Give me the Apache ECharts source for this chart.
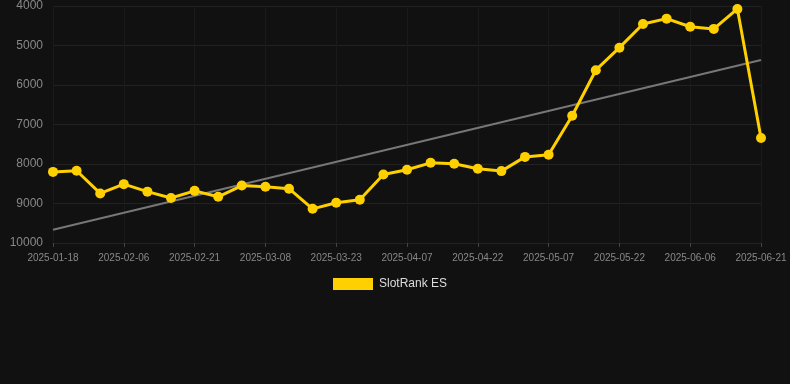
<!DOCTYPE html>
<html>
<head>
<meta charset="utf-8">
<script src="https://cdn.jsdelivr.net/npm/echarts@6/dist/echarts.min.js"></script>
<style>
  html, body { margin: 0; padding: 0; background: #111111; }
  #chart { width: 790px; height: 384px; }
</style>
</head>
<body>
<div id="chart"></div>
<script>
// dates on the x axis (category)
var dates = ['2025-01-18', '2025-01-27', '2025-02-01', '2025-02-06', '2025-02-11', '2025-02-16',
    '2025-02-21', '2025-02-26', '2025-03-03', '2025-03-08', '2025-03-13', '2025-03-18',
    '2025-03-23', '2025-03-28', '2025-04-02', '2025-04-07', '2025-04-12', '2025-04-17',
    '2025-04-22', '2025-04-27', '2025-05-02', '2025-05-07', '2025-05-12', '2025-05-17',
    '2025-05-22', '2025-05-27', '2025-06-01', '2025-06-06', '2025-06-11', '2025-06-16',
    '2025-06-21'];

// rank values (lower is better, axis inverted)
var rankValues = [8200, 8170, 8745, 8510, 8700, 8860, 8680, 8830, 8545, 8575, 8625, 9135,
    8980, 8905, 8265, 8145, 7970, 7995, 8120, 8180, 7820, 7765, 6780, 5625,
    5055, 4455, 4320, 4525, 4580, 4075, 7340];

// trend line endpoints (first and last category)
var trendStart = 9665;
var trendEnd = 5365;

var trendData = dates.map(function (d, i) {
    if (i === 0) return trendStart;
    if (i === dates.length - 1) return trendEnd;
    return null;
});

var option = {
    backgroundColor: '#111111',
    animation: false,
    grid: {
        left: 53,
        right: 29,
        top: 6,
        bottom: 141
    },
    legend: {
        top: 273,
        left: 328,
        itemWidth: 40,
        itemHeight: 12,
        itemGap: 10,
        icon: 'rect',
        data: ['SlotRank ES'],
        textStyle: { color: '#dddddd', fontSize: 12, padding: [0, 0, 0, 1], fontFamily: 'Arial, Liberation Sans, sans-serif' }
    },
    xAxis: {
        type: 'category',
        data: dates,
        boundaryGap: false,
        axisLine: { show: false },
        axisTick: {
            show: true,
            interval: 2,
            length: 4,
            lineStyle: { color: '#444444' }
        },
        axisLabel: {
            interval: 2,
            color: '#888888',
            fontSize: 10,
            margin: 10,
            fontFamily: 'Arial, Liberation Sans, sans-serif'
        },
        splitLine: {
            show: true,
            interval: 2,
            lineStyle: { color: '#1a1a1a' }
        }
    },
    yAxis: {
        type: 'value',
        inverse: true,
        min: 4000,
        max: 10000,
        interval: 1000,
        axisLine: { show: false },
        axisTick: { show: false },
        axisLabel: {
            color: '#888888',
            fontSize: 12,
            margin: 10,
            fontFamily: 'Arial, Liberation Sans, sans-serif',
            formatter: function (v) { return String(v); }
        },
        splitLine: { lineStyle: { color: '#222222' } }
    },
    series: [
        {
            name: 'SlotRank ES',
            type: 'line',
            data: rankValues,
            symbol: 'circle',
            symbolSize: 10,
            itemStyle: { color: '#ffd000' },
            lineStyle: { color: '#ffd000', width: 3 },
            z: 3
        },
        {
            name: 'trend',
            type: 'line',
            data: trendData,
            connectNulls: true,
            symbol: 'none',
            lineStyle: { color: '#777777', width: 2 },
            z: 2
        }
    ]
};

var chart = echarts.init(document.getElementById('chart'));
chart.setOption(option);
</script>
</body>
</html>
